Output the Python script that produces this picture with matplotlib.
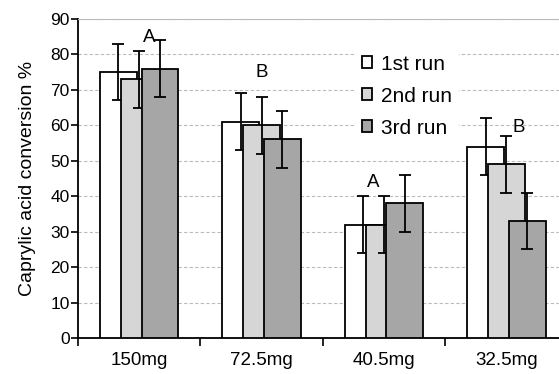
import matplotlib.pyplot as plt
import numpy as np

plt.rcParams['font.family'] = ['Liberation Sans', 'DejaVu Sans']

categories = ['150mg', '72.5mg', '40.5mg', '32.5mg']
run1 = [75, 61, 32, 54]
run2 = [73, 60, 32, 49]
run3 = [76, 56, 38, 33]
err1 = [8, 8, 8, 8]
err2 = [8, 8, 8, 8]
err3 = [8, 8, 8, 8]
series_names = ['1st run', '2nd run', '3rd run']
letters = ['A', 'B', 'A', 'B']
letter_pos = [(0.08, 84.7), (0.0, 74.8), (-0.09, 43.8), (0.1, 59.3)]

colors = ['white', '#d6d6d6', '#a6a6a6']
offsets = [-0.17, 0.0, 0.17]
width = 0.30

fig = plt.figure(figsize=(5.59, 3.74), dpi=100)
ax = fig.add_axes([0.1395, 0.0963, 0.8605, 0.853])

x = np.arange(len(categories))
handles = []
for i, (vals, errs) in enumerate(zip([run1, run2, run3], [err1, err2, err3])):
    b = ax.bar(x + offsets[i], vals, width, color=colors[i], edgecolor='black',
               linewidth=1.3, zorder=3 + 2 * i, label=series_names[i])
    ax.errorbar(x + offsets[i], vals, yerr=errs, fmt='none', ecolor='black',
                elinewidth=1.3, capsize=4, capthick=1.3, zorder=4 + 2 * i)
    handles.append(b)

for k, lab in enumerate(letters):
    dx, yy = letter_pos[k]
    ax.text(k + dx, yy, lab, ha='center', va='center', fontsize=13.5, zorder=10)

ax.set_xlim(-0.5, 3.43)
ax.set_ylim(0, 90)
ax.set_yticks(np.arange(0, 91, 10))
ax.tick_params(axis='y', direction='out', length=5, width=1.2, labelsize=12.5, pad=1)
ax.set_xticks(x)
ax.set_xticklabels(categories, fontsize=13.5)
ax.tick_params(axis='x', which='major', length=0, pad=10)
ax.set_xticks([-0.5, 0.5, 1.5, 2.5], minor=True)
ax.tick_params(axis='x', which='minor', direction='out', length=6, width=1.2)

ax.yaxis.grid(True, linestyle=(0, (3, 2)), color='#bbbbbb', linewidth=0.8, zorder=0)
ax.set_axisbelow(True)
for s in ['left', 'bottom']:
    ax.spines[s].set_linewidth(1.3)
ax.spines['top'].set_color('#bbbbbb')
ax.spines['right'].set_visible(False)

ax.set_ylabel('Caprylic acid conversion %', fontsize=14, labelpad=10)

leg = ax.legend(handles=handles, loc='upper left', bbox_to_anchor=(0.555, 0.94),
                frameon=True, fontsize=15, handlelength=0.5, handleheight=0.5,
                handletextpad=0.45, labelspacing=0.62, borderpad=0.3)
leg.get_frame().set_edgecolor('none')
leg.get_frame().set_facecolor('white')
leg.get_frame().set_alpha(1)
leg.set_zorder(12)

fig.savefig('out.png', dpi=100)
